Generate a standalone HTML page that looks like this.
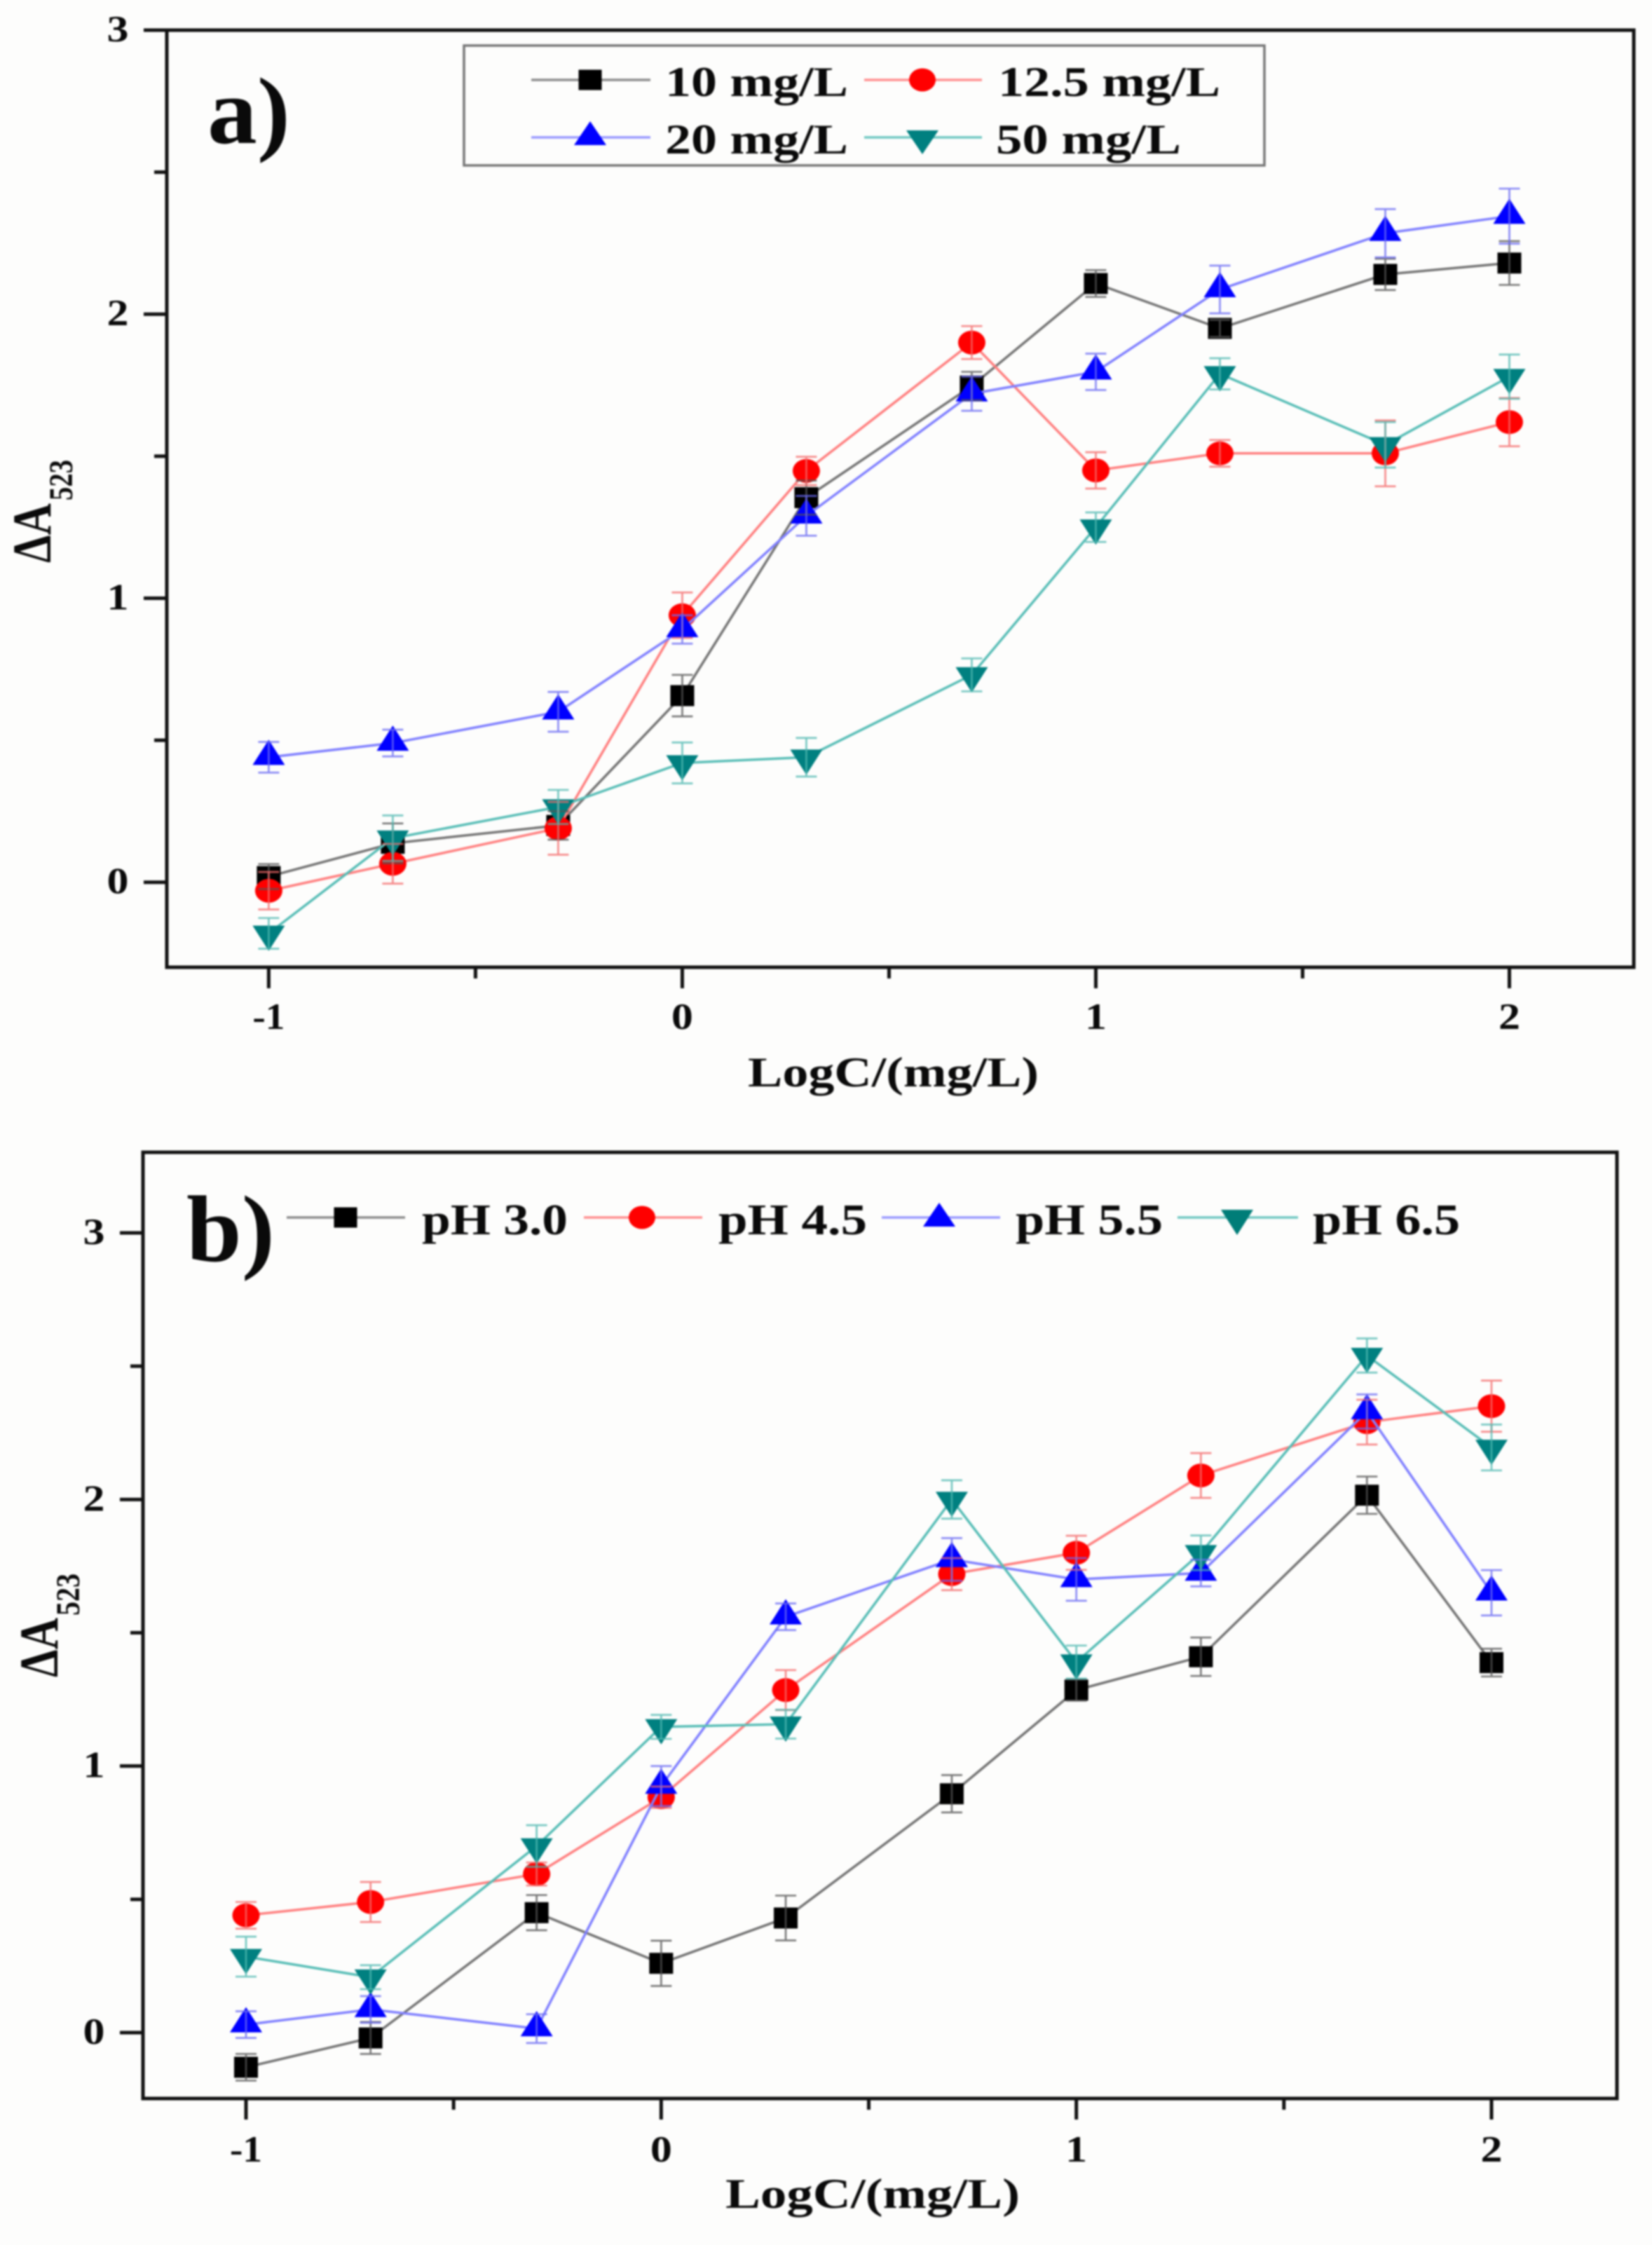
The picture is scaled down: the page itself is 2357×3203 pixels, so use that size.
<!DOCTYPE html>
<html lang="en">
<head>
<meta charset="utf-8">
<title>Delta A523 versus LogC charts</title>
<style>
html,body{margin:0;padding:0;background:#fdfdfc;}
svg{display:block;filter:blur(1.3px);}
text{font-family:"Liberation Serif",serif;font-weight:bold;fill:#0a0a0a;}
</style>
</head>
<body>
<svg id="figure" xmlns="http://www.w3.org/2000/svg" width="2357" height="3203" viewBox="0 0 2357 3203">
  <rect x="0" y="0" width="2357" height="3203" fill="#fdfdfc"/>

  <g id="panel-a">
    <rect x="238" y="43" width="2093" height="1337" fill="none" stroke="#111" stroke-width="5"/>
    <g id="panel-a-axes"></g>
    <g id="panel-a-series"></g>
    <text x="296" y="204" font-size="135" textLength="118" lengthAdjust="spacingAndGlyphs">a)</text>
    <text x="1067" y="1550" font-size="60" textLength="415" lengthAdjust="spacingAndGlyphs">LogC/(mg/L)</text>
    <text transform="translate(72 803) rotate(-90)" x="0" y="0" font-size="78" textLength="85" lengthAdjust="spacingAndGlyphs">ΔA</text>
    <text transform="translate(103 714) rotate(-90)" x="0" y="0" font-size="48" textLength="58" lengthAdjust="spacingAndGlyphs">523</text>
    <g>
      <rect x="662" y="65" width="1142" height="171" fill="#fdfdfc" stroke="#777" stroke-width="3.5"/>
      <g>
        <line x1="758" y1="114" x2="928" y2="114" stroke="#8c8c8c" stroke-width="3.5"/>
        <rect x="825.5" y="99.500" width="33" height="29" fill="#000"/>
        <text x="949" y="137" font-size="60" textLength="261" lengthAdjust="spacingAndGlyphs">10 mg/L</text>
      </g>
      <g>
        <line x1="1233" y1="114" x2="1401" y2="114" stroke="#ff8f8f" stroke-width="3.5"/>
        <ellipse cx="1316" cy="114" rx="19" ry="16.500" fill="#ff0000"/>
        <text x="1424" y="137" font-size="60" textLength="317" lengthAdjust="spacingAndGlyphs">12.5 mg/L</text>
      </g>
      <g>
        <line x1="758" y1="196" x2="928" y2="196" stroke="#9a9aff" stroke-width="3.5"/>
        <polygon points="819,207 865,207 842,173" fill="#0000ff"/>
        <text x="949" y="219" font-size="60" textLength="261" lengthAdjust="spacingAndGlyphs">20 mg/L</text>
      </g>
      <g>
        <line x1="1233" y1="196" x2="1401" y2="196" stroke="#70c8c2" stroke-width="3.5"/>
        <polygon points="1293,186 1339,186 1316,220" fill="#008080"/>
        <text x="1421" y="219" font-size="60" textLength="264" lengthAdjust="spacingAndGlyphs">50 mg/L</text>
      </g>
    </g>
  </g>

  <g id="panel-b">
    <rect x="204" y="1644" width="2103" height="1350" fill="none" stroke="#111" stroke-width="5"/>
    <g id="panel-b-axes"></g>
    <g id="panel-b-series"></g>
    <text x="266" y="1799" font-size="135" textLength="126" lengthAdjust="spacingAndGlyphs">b)</text>
    <text x="1035" y="3150" font-size="60" textLength="420" lengthAdjust="spacingAndGlyphs">LogC/(mg/L)</text>
    <text transform="translate(82 2393) rotate(-90)" x="0" y="0" font-size="78" textLength="85" lengthAdjust="spacingAndGlyphs">ΔA</text>
    <text transform="translate(113 2305) rotate(-90)" x="0" y="0" font-size="48" textLength="60" lengthAdjust="spacingAndGlyphs">523</text>
    <g>
      <g>
        <line x1="409" y1="1737" x2="578" y2="1737" stroke="#8c8c8c" stroke-width="3.5"/>
        <rect x="476.500" y="1722.500" width="33" height="29" fill="#000"/>
        <text x="602" y="1761" font-size="62" textLength="208" lengthAdjust="spacingAndGlyphs">pH 3.0</text>
      </g>
      <g>
        <line x1="833" y1="1737" x2="1002" y2="1737" stroke="#ff8f8f" stroke-width="3.5"/>
        <ellipse cx="916" cy="1737" rx="19" ry="16.500" fill="#ff0000"/>
        <text x="1025" y="1761" font-size="62" textLength="212" lengthAdjust="spacingAndGlyphs">pH 4.5</text>
      </g>
      <g>
        <line x1="1258" y1="1737" x2="1427" y2="1737" stroke="#9a9aff" stroke-width="3.5"/>
        <polygon points="1317,1750 1363,1750 1340,1716" fill="#0000ff"/>
        <text x="1449" y="1761" font-size="62" textLength="210" lengthAdjust="spacingAndGlyphs">pH 5.5</text>
      </g>
      <g>
        <line x1="1680" y1="1737" x2="1852" y2="1737" stroke="#70c8c2" stroke-width="3.5"/>
        <polygon points="1742,1726 1788,1726 1765,1762" fill="#007d78"/>
        <text x="1873" y="1761" font-size="62" textLength="210" lengthAdjust="spacingAndGlyphs">pH 6.5</text>
      </g>
    </g>
  </g>
</svg>

<script>
// Shared x categories (LogC) and axis ticks
const logC = [-1, -0.7, -0.3, 0, 0.3, 0.7, 1, 1.3, 1.7, 2];
const xMajorTicks = [-1, 0, 1, 2];
const xMinorTicks = [-0.5, 0.5, 1.5];
const yMajorTicks = [0, 1, 2, 3];
const yMinorTicks = [0.5, 1.5, 2.5];

// Panel a values: delta A523 by analyte concentration
const a10mg = [0.02, 0.137, 0.20, 0.657, 1.354, 1.747, 2.108, 1.95, 2.14, 2.18];
const a10mgErr = [0.044, 0.07, 0.05, 0.073, 0.06, 0.05, 0.047, 0.03, 0.055, 0.077];
const a125mg = [-0.03, 0.065, 0.19, 0.94, 1.448, 1.90, 1.45, 1.51, 1.51, 1.62];
const a125mgErr = [0.066, 0.07, 0.093, 0.08, 0.05, 0.058, 0.064, 0.047, 0.116, 0.085];
const a20mg = [0.44, 0.49, 0.60, 0.89, 1.29, 1.72, 1.797, 2.087, 2.285, 2.345];
const a20mgErr = [0.054, 0.047, 0.07, 0.05, 0.07, 0.06, 0.064, 0.084, 0.085, 0.097];
const a50mg = [-0.18, 0.155, 0.265, 0.42, 0.44, 0.73, 1.25, 1.79, 1.54, 1.78];
const a50mgErr = [0.054, 0.08, 0.06, 0.072, 0.068, 0.058, 0.052, 0.055, 0.08, 0.078];

// Panel b values: delta A523 by pH
const bPh30 = [-0.13, -0.02, 0.45, 0.26, 0.43, 0.896, 1.285, 1.41, 2.016, 1.388];
const bPh30Err = [0.05, 0.06, 0.066, 0.085, 0.084, 0.07, 0.04, 0.072, 0.07, 0.052];
const bPh45 = [0.44, 0.49, 0.595, 0.883, 1.285, 1.72, 1.80, 2.09, 2.29, 2.35];
const bPh45Err = [0.05, 0.075, 0.043, 0.04, 0.075, 0.06, 0.064, 0.084, 0.084, 0.096];
const bPh55 = [0.03, 0.087, 0.015, 0.925, 1.56, 1.775, 1.70, 1.724, 2.33, 1.65];
const bPh55Err = [0.05, 0.05, 0.054, 0.075, 0.05, 0.08, 0.08, 0.05, 0.064, 0.085];
const bPh65 = [0.285, 0.208, 0.70, 1.147, 1.157, 2.0, 1.39, 1.80, 2.54, 2.195];
const bPh65Err = [0.075, 0.045, 0.078, 0.045, 0.054, 0.072, 0.062, 0.065, 0.064, 0.086];

const SVG_NS = 'http://www.w3.org/2000/svg';

function make(tag, parent, props) {
  const el = document.createElementNS(SVG_NS, tag);
  Object.keys(props).forEach(function (k) { el.setAttribute(k, props[k]); });
  parent.appendChild(el);
  return el;
}

function linear(v0, px0, v1, px1) {
  return function (v) { return px0 + (v - v0) * (px1 - px0) / (v1 - v0); };
}

const panels = [
  {
    id: 'a',
    xAt: linear(-1, 383.4, 2, 2153.5),
    yAt: linear(0, 1258.7, 3, 43),
    left: 238, bottom: 1380,
    yLabelX: 168, xLabelY: 1468,
    series: [
      { key: '10-mg-l', shape: 'square', values: a10mg, errors: a10mgErr },
      { key: '12-5-mg-l', shape: 'circle', values: a125mg, errors: a125mgErr },
      { key: '20-mg-l', shape: 'up', values: a20mg, errors: a20mgErr },
      { key: '50-mg-l', shape: 'down', values: a50mg, errors: a50mgErr }
    ]
  },
  {
    id: 'b',
    xAt: linear(-1, 351, 2, 2128),
    yAt: linear(0, 2900, 3, 1759),
    left: 204, bottom: 2994,
    yLabelX: 134, xLabelY: 3084,
    series: [
      { key: 'ph-3-0', shape: 'square', values: bPh30, errors: bPh30Err },
      { key: 'ph-4-5', shape: 'circle', values: bPh45, errors: bPh45Err },
      { key: 'ph-5-5', shape: 'up', values: bPh55, errors: bPh55Err },
      { key: 'ph-6-5', shape: 'down', values: bPh65, errors: bPh65Err }
    ]
  }
];

const shapeStyle = {
  square: { fill: '#000000', line: '#747474', err: '#555555' },
  circle: { fill: '#ff0000', line: '#ff7f7f', err: '#f46a6a' },
  up: { fill: '#0000ff', line: '#7f7fff', err: '#6a6af2' },
  down: { fill: '#008080', line: '#57bdb6', err: '#4fb8b0' }
};

function drawMarker(parent, shape, x, y) {
  const fill = shapeStyle[shape].fill;
  if (shape === 'square') {
    return make('rect', parent, { x: x - 17, y: y - 15, width: 34, height: 30, fill: fill });
  }
  if (shape === 'circle') {
    return make('ellipse', parent, { cx: x, cy: y, rx: 19.5, ry: 17, fill: fill });
  }
  if (shape === 'up') {
    return make('polygon', parent, {
      points: (x - 23) + ',' + (y + 11) + ' ' + (x + 23) + ',' + (y + 11) + ' ' + x + ',' + (y - 25),
      fill: fill
    });
  }
  return make('polygon', parent, {
    points: (x - 23) + ',' + (y - 11) + ' ' + (x + 23) + ',' + (y - 11) + ' ' + x + ',' + (y + 25),
    fill: fill
  });
}

function drawAxes(panel) {
  const g = document.getElementById('panel-' + panel.id + '-axes');
  const common = { stroke: '#111', 'stroke-width': 5 };
  xMajorTicks.forEach(function (t) {
    const x = panel.xAt(t);
    const tick = make('line', g, Object.assign({ x1: x, x2: x, y1: panel.bottom, y2: panel.bottom + 30 }, common));
    
    
    const label = make('text', g, {
      x: x, y: panel.xLabelY, 'text-anchor': 'middle', 'font-size': 53,
      textLength: String(t).length > 1 ? 46 : 31, lengthAdjust: 'spacingAndGlyphs'
    });
    label.textContent = String(t);
    
    
  });
  xMinorTicks.forEach(function (t) {
    const x = panel.xAt(t);
    const tick = make('line', g, Object.assign({ x1: x, x2: x, y1: panel.bottom, y2: panel.bottom + 16 }, common));
    
    
  });
  yMajorTicks.forEach(function (t) {
    const y = panel.yAt(t);
    const tick = make('line', g, Object.assign({ x1: panel.left - 33, x2: panel.left, y1: y, y2: y }, common));
    
    
    const label = make('text', g, {
      x: panel.yLabelX, y: y + 16, 'text-anchor': 'middle', 'font-size': 53,
      textLength: 31, lengthAdjust: 'spacingAndGlyphs'
    });
    label.textContent = String(t);
    
    
  });
  yMinorTicks.forEach(function (t) {
    const y = panel.yAt(t);
    const tick = make('line', g, Object.assign({ x1: panel.left - 18, x2: panel.left, y1: y, y2: y }, common));
    
    
  });
}

function drawSeries(panel) {
  const g = document.getElementById('panel-' + panel.id + '-series');
  const errorLayer = document.createElementNS(SVG_NS, 'g');
  
  

  panel.series.forEach(function (s) {
    const style = shapeStyle[s.shape];
    const sg = make('g', g, {});
    
    

    const pts = s.values.map(function (v, i) {
      return panel.xAt(logC[i]) + ',' + panel.yAt(v);
    }).join(' ');
    const line = make('polyline', sg, {
      points: pts, fill: 'none', stroke: style.line, 'stroke-width': 3.5, 'stroke-linejoin': 'miter'
    });
    
    

    s.values.forEach(function (v, i) {
      const x = panel.xAt(logC[i]);
      const y = panel.yAt(v);
      const marker = drawMarker(sg, s.shape, x, y);
      
      

      const top = panel.yAt(v + s.errors[i]);
      const bot = panel.yAt(v - s.errors[i]);
      const d = 'M' + x + ' ' + top + 'V' + bot +
        'M' + (x - 15) + ' ' + top + 'H' + (x + 15) +
        'M' + (x - 15) + ' ' + bot + 'H' + (x + 15);
      const bar = make('path', errorLayer, {
        d: d, fill: 'none', stroke: style.err, 'stroke-width': 2.6, 'stroke-opacity': 0.8
      });
      
      
    });
  });
  g.appendChild(errorLayer);
}

panels.forEach(function (p) {
  drawAxes(p);
  drawSeries(p);
});
</script>
</body>
</html>
